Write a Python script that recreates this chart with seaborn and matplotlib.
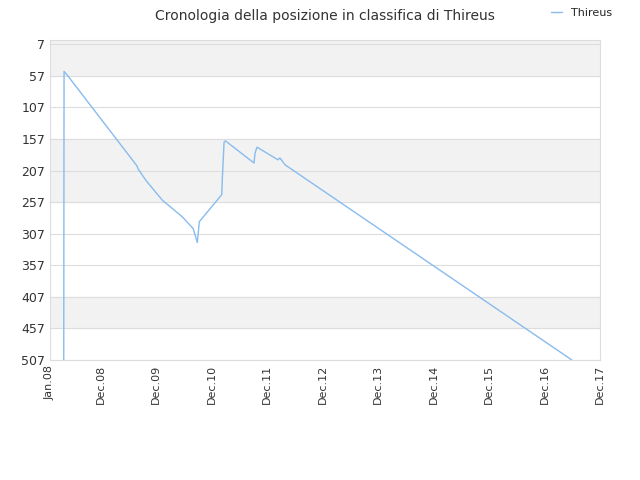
import matplotlib
matplotlib.use("Agg")
import matplotlib.pyplot as plt
import pandas as pd
import seaborn as sns

dates = ["2008-04-01", "2008-04-03", "2008-05-01", "2009-07-25", "2009-08-05",
         "2009-09-25", "2010-01-10", "2010-05-20", "2010-08-01", "2010-08-28",
         "2010-09-10", "2011-02-05", "2011-02-08", "2011-02-20", "2011-03-01",
         "2011-09-05", "2011-09-12", "2011-09-25", "2012-02-10", "2012-02-22",
         "2012-03-28", "2017-05-28"]
ranks = [507, 50, 58, 199, 205, 223, 254, 280, 299, 321, 288, 245, 223, 162, 160,
         195, 179, 170, 190, 187, 198, 507]
tick_dates = ["2008-01-01"] + [f"20{y:02d}-12-01" for y in range(8, 18)]
tick_labels = ["Jan.08"] + [f"Dec.{y:02d}" for y in range(8, 18)]
y_ticks = list(range(7, 508, 50))

df = pd.DataFrame({"date": pd.to_datetime(dates), "rank": ranks})

sns.set_style("white")
plt.rcParams["font.family"] = ["DejaVu Sans"]
fig = plt.figure(figsize=(6.4, 4.8), dpi=100)
ax = fig.add_axes([0.078, 0.25, 0.86, 0.667])

for lo, hi in [(0, 57), (157, 257), (407, 457)]:
    ax.axhspan(lo, hi, color="#f2f2f2", zorder=0)
sns.lineplot(data=df, x="date", y="rank", ax=ax, color="#88bbee", linewidth=1, label="Thireus")

ax.set_ylim(507, 0)
ax.set_yticks(y_ticks)
ax.set_xlim(pd.Timestamp("2008-01-01"), pd.Timestamp("2017-12-01"))
ax.set_xticks(pd.to_datetime(tick_dates))
ax.set_xticklabels(tick_labels, rotation=90, fontsize=8, color="#333333")
ax.tick_params(axis="y", labelsize=9, colors="#333333", length=0)
ax.tick_params(axis="x", length=0)
ax.grid(axis="y", color="#dddddd", linewidth=0.8)
ax.set_xlabel("")
ax.set_ylabel("")
for s in ax.spines.values():
    s.set_color("#dddddd")
ax.set_title("Cronologia della posizione in classifica di Thireus", fontsize=10, color="#333333", pad=14)
ax.legend(loc="upper right", bbox_to_anchor=(1.04, 1.13), frameon=False, fontsize=8, handlelength=1)

fig.savefig("out.png", dpi=100)
